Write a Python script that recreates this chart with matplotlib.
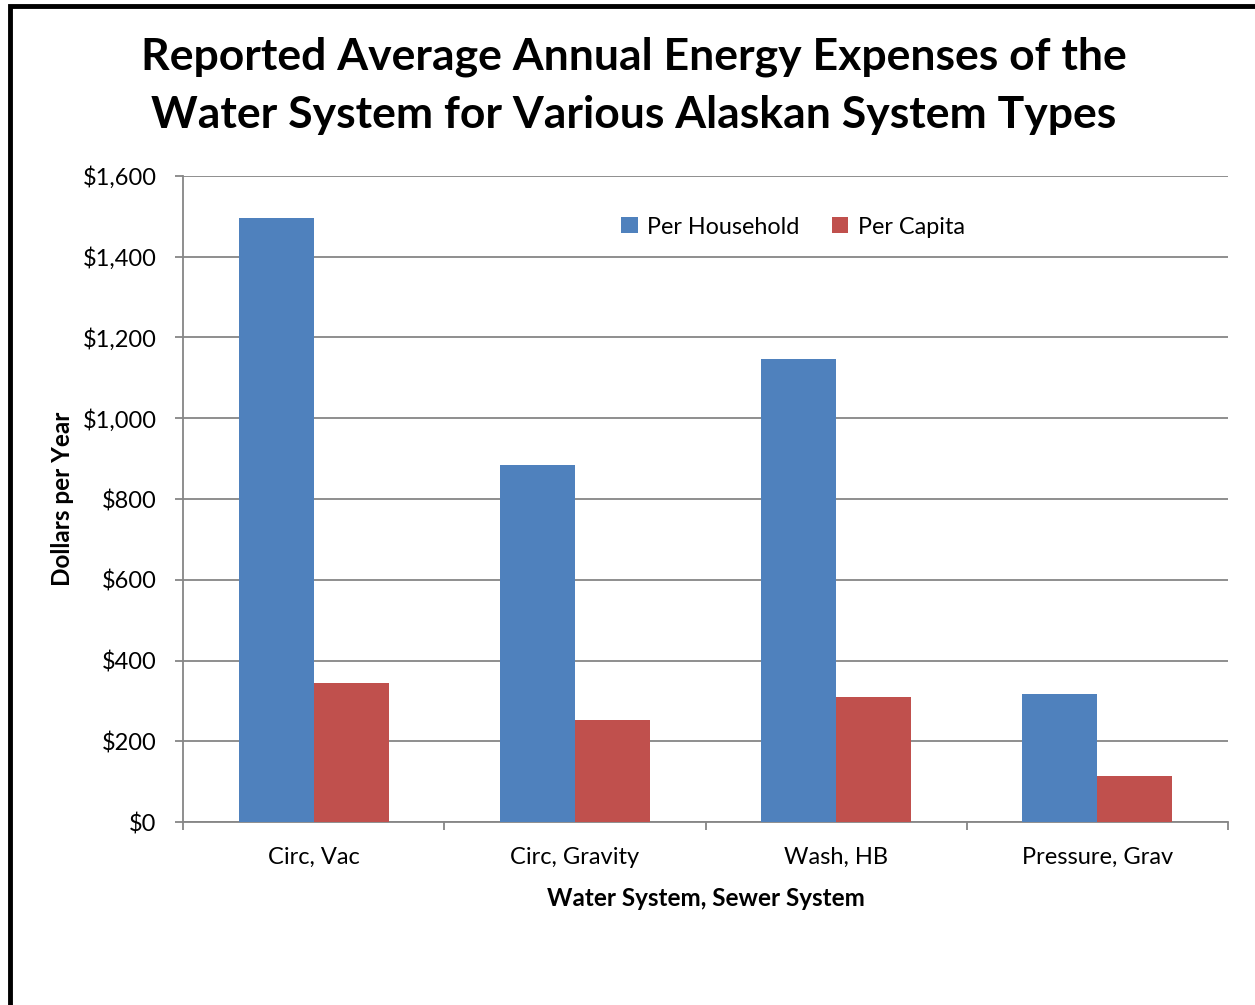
import matplotlib
matplotlib.use("Agg")
import matplotlib.pyplot as plt
import numpy as np
from matplotlib.patches import Rectangle

categories = ["Circ, Vac", "Circ, Gravity", "Wash, HB", "Pressure, Grav"]
per_household = [1495, 884, 1147, 317]
per_capita = [344, 253, 310, 114]
series_names = ["Per Household", "Per Capita"]
yticks = [0, 200, 400, 600, 800, 1000, 1200, 1400, 1600]
ytick_labels = ["$0", "$200", "$400", "$600", "$800", "$1,000", "$1,200", "$1,400", "$1,600"]

plt.rcParams['font.family'] = ['Lato', 'DejaVu Sans']

fig = plt.figure(figsize=(12.55, 10.05), dpi=100)
ax = fig.add_axes([183/1255, 1-822/1005, (1228-183)/1255, (822-176)/1005])

# outer frame
fig.patches.append(Rectangle((10/1255, -0.1), 1.2, 1-6/1005+0.1, transform=fig.transFigure,
                             fill=False, edgecolor='black', linewidth=3.5, zorder=10))

x = np.arange(len(categories))
w = 0.287
ax.bar(x - w/2, per_household, w, color='#4F81BD', label=series_names[0], zorder=3)
ax.bar(x + w/2, per_capita, w, color='#C0504D', label=series_names[1], zorder=3)

ax.set_xlim(-0.5, 3.5)
ax.set_ylim(0, 1600)
ax.set_yticks(yticks)
ax.set_yticklabels(ytick_labels, fontsize=17)
ax.yaxis.grid(True, color='#868686', linewidth=1.3, zorder=0)
ax.set_axisbelow(True)

ax.set_xticks(np.arange(-0.5, 4, 1.0))
ax.set_xticklabels([])
ax.set_xticks(x, minor=True)
ax.set_xticklabels(categories, minor=True, fontsize=17)
ax.tick_params(axis='x', which='minor', length=0, pad=18)
ax.tick_params(axis='x', which='major', length=6, color='#868686', width=1.3)
ax.tick_params(axis='y', length=6, color='#868686', width=1.3, pad=13)

for s in ['top', 'right']:
    ax.spines[s].set_visible(False)
for s in ['left', 'bottom']:
    ax.spines[s].set_color('#868686')
    ax.spines[s].set_linewidth(1.3)

ax.set_xlabel("Water System, Sewer System", fontsize=17.5, fontweight='bold', labelpad=14)
ax.set_ylabel("Dollars per Year", fontsize=17.5, fontweight='bold', labelpad=6)

fig.text(634/1255, 1-86/1005, "Reported Average Annual Energy Expenses of the\nWater System for Various Alaskan System Types",
         ha='center', va='center', fontsize=32, fontweight='bold', linespacing=1.55)

ax.legend(loc='center', bbox_to_anchor=((793-183)/1045, (822-227)/646), ncol=2, frameon=False,
          fontsize=16.8, handlelength=0.7, handleheight=0.7, handletextpad=0.4, columnspacing=1.4)

fig.savefig("out.png", dpi=100)
